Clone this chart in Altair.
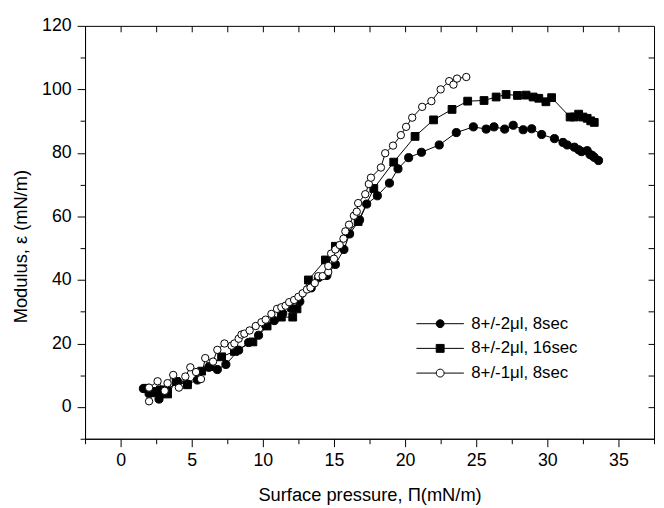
import altair as alt
import pandas as pd

series_names = ["8+/-2μl, 8sec", "8+/-2μl, 16sec", "8+/-1μl, 8sec"]

# Series 1: filled circles
a_x = [1.6, 2.0, 2.3, 2.7, 2.8, 3.3, 4.0, 4.7, 5.4, 6.2, 6.8, 7.4, 8.3, 9.0, 9.7,
       10.2, 10.8, 11.4, 12.0, 12.6, 13.4, 13.9, 14.5, 15.1, 15.7, 16.1, 16.8, 17.3,
       18.05, 18.9, 19.5, 20.25, 21.15, 22.4, 23.6, 24.8, 25.7, 26.25, 27.0, 27.6,
       28.3, 28.9, 29.6, 30.5, 31.1, 31.4, 31.9, 32.2, 32.4, 32.8, 33.0, 33.15, 33.3, 33.6]
a_y = [5.8, 4.2, 4.5, 2.5, 3.8, 5.4, 8.0, 7.2, 8.5, 12.5, 11.8, 13.4, 17.9, 20.3, 22.6,
       25.7, 27.2, 29.4, 31.0, 33.2, 37.5, 40.7, 41.4, 44.9, 49.6, 54.5, 58.9, 63.9,
       66.5, 70.5, 75.0, 78.5, 80.2, 82.5, 86.4, 88.2, 87.5, 88.2, 87.5, 88.7,
       87.3, 87.6, 85.8, 84.5, 83.3, 82.5, 81.8, 81.0, 80.4, 80.7, 79.5, 79.2, 78.6, 77.6]

# Series 2: filled squares
b_x = [1.8, 2.4, 2.8, 3.3, 3.9, 4.7, 5.7, 6.3, 7.1, 8.0, 9.3, 10.3, 11.3, 12.1, 12.4,
       13.2, 14.4, 15.1, 16.7, 17.8, 19.2, 20.7, 22.0, 23.3, 24.4, 25.55, 26.4, 27.1,
       27.9, 28.5, 29.0, 29.4, 29.9, 30.3, 31.6, 31.9, 32.2, 32.5, 32.8, 33.05, 33.3]
b_y = [5.9, 4.9, 5.4, 4.1, 8.0, 7.0, 11.3, 12.7, 15.8, 17.5, 20.5, 25.5, 28.3, 28.3, 30.9,
       40.0, 46.3, 50.6, 58.4, 68.8, 77.1, 85.2, 90.4, 93.7, 96.3, 96.5, 97.6, 98.4,
       98.1, 98.2, 97.6, 97.2, 96.1, 97.4, 91.3, 91.3, 92.2, 91.3, 90.9, 90.1, 89.6]

# Series 3: open circles
c_x = [2.0, 2.0, 2.6, 3.1, 3.3, 3.7, 4.1, 4.55, 4.9, 5.3, 5.65, 5.95, 6.5, 6.8, 7.3,
       7.8, 8.0, 8.3, 8.5, 8.7, 9.07, 9.5, 9.9, 10.2, 10.6, 11.0, 11.3, 11.6, 11.85,
       12.2, 12.5, 12.8, 13.1, 13.35, 13.65, 13.9, 14.2, 14.6, 14.6, 14.8, 15.0, 15.1,
       15.4, 15.67, 15.8, 16.06, 16.4, 16.6, 16.7, 17.2, 17.45, 17.6, 18.3, 18.6,
       19.15, 19.7, 20.07, 20.5, 21.2, 21.85, 22.5, 23.1, 23.4, 23.65, 24.3]
c_y = [1.8, 6.1, 8.1, 5.1, 7.5, 10.1, 6.1, 9.6, 12.5, 11.0, 8.8, 15.4, 14.3, 18.0, 20.0,
       19.3, 20.0, 21.5, 22.8, 23.1, 24.1, 25.5, 26.7, 27.5, 29.3, 30.9, 31.4, 31.9, 33.0,
       33.7, 34.7, 35.8, 37.0, 37.6, 39.0, 41.2, 41.2, 42.5, 44.4, 48.3, 46.7, 49.6,
       51.0, 53.0, 55.3, 57.4, 60.2, 61.5, 64.2, 67.0, 70.2, 72.2, 75.4, 79.9,
       82.3, 85.6, 88.2, 91.1, 94.5, 96.3, 100.0, 102.6, 101.5, 103.4, 103.9]

x_major = [0, 5, 10, 15, 20, 25, 30, 35]
x_minor = [-2.5, 2.5, 7.5, 12.5, 17.5, 22.5, 27.5, 32.5, 37.5]
x_top = [0, 2.5, 5, 7.5, 10, 12.5, 15, 17.5, 20, 22.5, 25, 27.5, 30, 32.5, 35]
y_major = [0, 20, 40, 60, 80, 100, 120]
y_minor = [-10, 10, 30, 50, 70, 90, 110]
y_right = [0, 10, 20, 30, 40, 50, 60, 70, 80, 90, 100, 110]

rows = []
for k, (name, xs, ys) in enumerate(zip(series_names, [a_x, b_x, c_x], [a_y, b_y, c_y])):
    for i, (xv, yv) in enumerate(zip(xs, ys)):
        rows.append({"series": name, "x": xv, "y": yv, "idx": i, "k": k})
df = pd.DataFrame(rows)

FONT = "Liberation Sans"
X_SCALE = alt.Scale(domain=[-2.5, 37.5], nice=False, zero=False)
Y_SCALE = alt.Scale(domain=[-10, 120], nice=False, zero=False)

common = dict(grid=False, domainColor="black", tickColor="black", labelColor="black",
              titleColor="black", tickWidth=1, domainWidth=1, labelFont=FONT, titleFont=FONT)

lines = alt.Chart(df).mark_line(color="black", strokeWidth=1).encode(
    x=alt.X("x:Q", scale=X_SCALE, axis=alt.Axis(
        orient="bottom", values=x_major, tickSize=8, labelPadding=5, labelFontSize=18,
        labelFlush=False, labelOverlap=False, format="d",
        title="Surface pressure, Π(mN/m)", titleFontSize=18.5, titleFontWeight="normal",
        titleY=63, titleBaseline="alphabetic", **common)),
    y=alt.Y("y:Q", scale=Y_SCALE, axis=alt.Axis(
        orient="left", values=y_major, tickSize=8, labelPadding=6, labelFontSize=18,
        labelFlush=False, labelOverlap=False, format="d",
        title="Modulus, ε (mN/m)", titleFontSize=18.5, titleFontWeight="normal",
        titleX=-59, titleY=223, titleAngle=270, titleAlign="center",
        titleBaseline="alphabetic", **common)),
    detail="series:N",
    order="idx:Q",
)

points = alt.Chart(df).mark_point(filled=True, opacity=1, strokeWidth=1).encode(
    x=alt.X("x:Q", scale=X_SCALE, axis=None),
    y=alt.Y("y:Q", scale=Y_SCALE, axis=None),
    shape=alt.Shape("series:N", scale=alt.Scale(domain=series_names, range=["circle", "square", "circle"]), legend=None),
    fill=alt.Fill("series:N", scale=alt.Scale(domain=series_names, range=["black", "black", "white"]), legend=None),
    size=alt.Size("series:N", scale=alt.Scale(domain=series_names, range=[68, 56, 62]), legend=None),
    stroke=alt.value("black"),
)

minor = alt.Chart(df).mark_point(opacity=0).encode(
    x=alt.X("x:Q", scale=X_SCALE, axis=alt.Axis(orient="bottom", values=x_minor, tickSize=5,
                                                  labels=False, domain=False, title=None, ticks=True,
                                                  grid=False, tickColor="black")),
    y=alt.Y("y:Q", scale=Y_SCALE, axis=alt.Axis(orient="left", values=y_minor, tickSize=5,
                                                  labels=False, domain=False, title=None, ticks=True,
                                                  grid=False, tickColor="black")),
)

mirror = alt.Chart(df).mark_point(opacity=0).encode(
    x=alt.X("x:Q", scale=X_SCALE, axis=alt.Axis(orient="top", values=x_top, tickSize=6, offset=-6,
                                                  labels=False, domain=False, title=None,
                                                  grid=False, tickColor="black")),
    y=alt.Y("y:Q", scale=Y_SCALE, axis=alt.Axis(orient="right", values=y_right, tickSize=6, offset=-6,
                                                  labels=False, domain=False, title=None,
                                                  grid=False, tickColor="black")),
)

legend_paths = [
    "M-6,0H-1M1,0H6M-1,0A1,1,0,1,1,1,0A1,1,0,1,1,-1,0Z",
    "M-6,0H-1M1,0H6M-1,-1H1V1H-1Z",
    "M-6,0H-1M1,0H6M-1,0A1,1,0,1,1,1,0A1,1,0,1,1,-1,0Z",
]
leg = alt.Legend(title=None, orient="none", legendX=351, legendY=293, labelFontSize=17,
                 labelFont=FONT, labelColor="black", labelOffset=23, rowPadding=7,
                 symbolSize=64, symbolStrokeWidth=1, symbolOpacity=1,
                 padding=0, labelLimit=300)
legend_layer = alt.Chart(df).transform_filter("false").mark_point(filled=False, opacity=1, strokeWidth=1).encode(
    shape=alt.Shape("series:N", scale=alt.Scale(domain=series_names, range=legend_paths), legend=leg),
    fill=alt.Fill("series:N", scale=alt.Scale(domain=series_names, range=["black", "black", "white"]), legend=leg),
    stroke=alt.Stroke("series:N", scale=alt.Scale(domain=series_names, range=["black", "black", "black"]), legend=leg),
)

chart = alt.layer(lines, points, minor, mirror, legend_layer).resolve_axis(
    x="independent", y="independent"
).resolve_scale(
    shape="independent", fill="independent", size="independent", stroke="independent"
).properties(
    width=576, height=418,
    autosize=alt.AutoSizeParams(type="none"),
    padding={"left": 78, "top": 15, "right": 2, "bottom": 67},
).configure(font=FONT).configure_view(stroke="black", strokeWidth=1)

chart.save("out.html", embed_options={"renderer": "svg", "actions": False})
